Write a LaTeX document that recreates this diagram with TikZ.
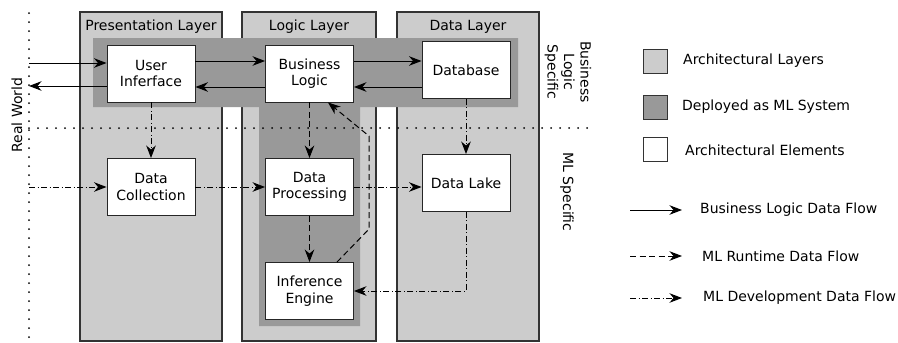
\documentclass[tikz,border=0pt]{standalone}
\usepackage{fontspec}
\setmainfont{DejaVu Sans}
\usetikzlibrary{arrows.meta}
\definecolor{layergray}{HTML}{CCCCCC}
\definecolor{mlgray}{HTML}{999999}
\definecolor{edgegray}{HTML}{333333}

\begin{document}
\begin{tikzpicture}[x=1pt, y=-1pt,
  font=\fontsize{14}{16.5}\selectfont,
  layer/.style={draw=edgegray, fill=layergray, line width=1.2pt, minimum width=142pt, minimum height=329pt, inner sep=0pt},
  element/.style={draw=black!85, fill=white, line width=0.9pt, minimum width=88pt, minimum height=57pt, align=center, inner sep=0pt},
  swatch/.style={draw=edgegray, line width=1pt, minimum size=24pt, inner sep=0pt},
  legend/.style={anchor=west, inner sep=0pt},
  flow/.style={line width=1pt, -{Stealth[length=12.5pt, width=9.5pt, inset=4pt]}},
  runtime/.style={flow, dash pattern=on 6pt off 3.5pt},
  develop/.style={flow, dash pattern=on 6pt off 2.5pt on 1pt off 2.5pt},
  border/.style={line width=2pt, dash pattern=on 0pt off 9pt, line cap=round}]
  \useasboundingbox (0,0) rectangle (898,343);

  % Layers
  \node[layer] (pres) at (151,176.5) {};
  \node[layer, minimum width=134pt] (logic) at (309,176.5) {};
  \node[layer] (data) at (468,176.5) {};
  \node (prestitle) at (151,27) {Presentation Layer};
  \node (logictitle) at (309,27) {Logic Layer};
  \node (datatitle) at (468,27) {Data Layer};

  % ML system
  \fill[mlgray] (93,38) -- (518,38) -- (518,107) -- (360,107) -- (360,326)
    -- (259,326) -- (259,107) -- (93,107) -- cycle;

  % Borders
  \coordinate (rwtop) at (29,13);
  \coordinate (rwbot) at (29,341);
  \coordinate (splitl) at (29,128);
  \coordinate (splitr) at (590,128);
  \draw[border] (rwtop) -- (rwbot);
  \draw[border] (splitl) -- (splitr);
  \node[rotate=90] (realworld) at (17,115) {Real World};
  \node[rotate=-90, align=center] (bizspec) at (568,72) {Business\\Logic\\Specific};
  \node[rotate=-90] (mlspec) at (567,192) {ML Specific};

  % Elements
  \node[element] (ui) at (151,73.5) {User\\Inferface};
  \node[element] (bl) at (309.5,73.5) {Business\\Logic};
  \node[element] (db) at (466,70) {Database};
  \node[element] (dc) at (151,187) {Data\\Collection};
  \node[element] (dp) at (309.5,187) {Data\\Processing};
  \node[element] (dl) at (466,183) {Data Lake};
  \node[element] (ie) at (309.5,291) {Inference\\Engine};

  % Business logic
  \draw[flow] ([yshift=10.5pt]ui.west -| rwtop) -- ([yshift=10.5pt]ui.west);
  \draw[flow] ([yshift=-12.5pt]ui.west) -- ([yshift=-12.5pt]ui.west -| rwtop);
  \draw[flow] ([yshift=12.5pt]ui.east) -- ([yshift=12.5pt]bl.west);
  \draw[flow] ([yshift=-13.5pt]bl.west) -- ([yshift=-13.5pt]ui.east);
  \draw[flow] ([yshift=12.5pt]bl.east) -- ([yshift=12.5pt]bl.east -| db.west);
  \draw[flow] ([yshift=-13.5pt]bl.east -| db.west) -- ([yshift=-13.5pt]bl.east);

  % Runtime
  \draw[runtime] (bl.south) -- (dp.north);
  \draw[runtime] (dp.south) -- (ie.north);
  \draw[runtime] ([xshift=27.5pt]ie.north) -- ++(32,-33) -- ++(0,-93) -- ([xshift=18.5pt]bl.south);

  % Development
  \draw[develop] (ui.south) -- (dc.north);
  \draw[develop] (dc.west -| rwtop) -- (dc.west);
  \draw[develop] (dc.east) -- (dp.west);
  \draw[develop] (dp.east) -- (dp.east -| dl.west);
  \draw[develop] (db.south) -- (dl.north);
  \draw[develop] (dl.south) |- (ie.east);

  % Legend
  \node[swatch, fill=layergray] (swlayer) at (655,61) {};
  \node[swatch, fill=mlgray] (swml) at (655,107) {};
  \node[swatch, fill=white] (swelem) at (655,149.5) {};
  \node[legend] (lglayer) at (683,61) {Architectural Layers};
  \node[legend] (lgml) at (682,107) {Deployed as ML System};
  \node[legend] (lgelem) at (685,150) {Architectural Elements};
  \node[legend] (lgbiz) at (700,210) {Business Logic Data Flow};
  \node[legend] (lgrun) at (702,256) {ML Runtime Data Flow};
  \node[legend] (lgdev) at (703,298) {ML Development Data Flow};
  \draw[flow] ([xshift=-70pt]lgbiz.west) -- ([xshift=-18pt]lgbiz.west);
  \draw[runtime] ([xshift=-72pt]lgrun.west) -- ([xshift=-20pt]lgrun.west);
  \draw[develop] ([xshift=-73pt]lgdev.west) -- ([xshift=-21pt]lgdev.west);
\end{tikzpicture}
\end{document}
